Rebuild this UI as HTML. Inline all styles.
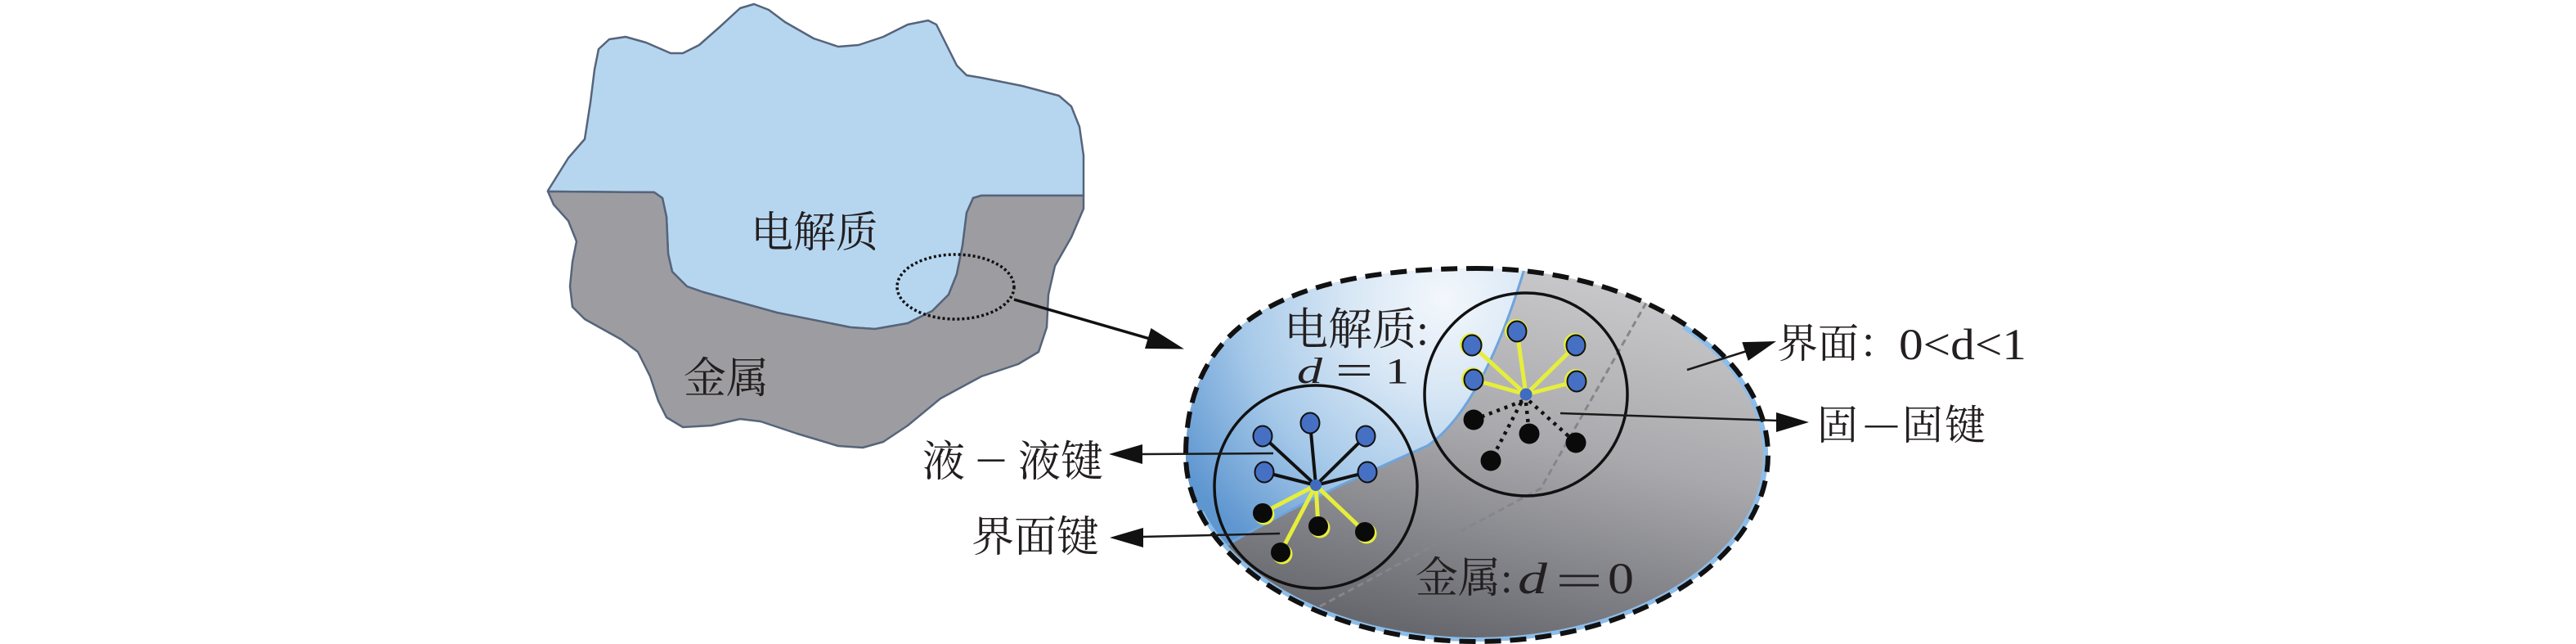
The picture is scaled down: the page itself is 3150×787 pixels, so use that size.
<!DOCTYPE html>
<html><head><meta charset="utf-8"><style>
html,body{margin:0;padding:0;background:#fff;}
svg{display:block;}
text{font-family:"Liberation Serif","Noto Serif CJK SC",serif;fill:#231f20;}
</style></head><body>
<svg width="3150" height="787" viewBox="0 0 3150 787" xmlns="http://www.w3.org/2000/svg">
<defs>
<clipPath id="ec"><path d="M1806,328 C2002.6,328 2162,430 2162,556 C2162,682 2002.6,784 1806,784 C1609.4,784 1450,682 1450,556 C1450,401 1564,328 1806,328 Z"/></clipPath>
<radialGradient id="bg" cx="1765" cy="365" r="380" gradientUnits="userSpaceOnUse">
<stop offset="0" stop-color="#f3f7fc"/>
<stop offset="0.3" stop-color="#d8e7f5"/>
<stop offset="0.65" stop-color="#a6c9e9"/>
<stop offset="1" stop-color="#5e96d0"/>
</radialGradient>
<linearGradient id="gg" x1="1900" y1="330" x2="1800" y2="785" gradientUnits="userSpaceOnUse">
<stop offset="0" stop-color="#c8c8ca"/>
<stop offset="0.45" stop-color="#a9a9ad"/>
<stop offset="1" stop-color="#67686e"/>
</linearGradient>
</defs>

<!-- Left blob: electrolyte -->
<polygon fill="#b6d6f0" stroke="#56647a" stroke-width="2.5" stroke-linejoin="round"
points="670,233 695,193 715,170 722,125 727,85 732,60 745,48 765,45 790,52 820,65 835,65 855,55 880,33 905,10 922,5 940,12 960,27 995,47 1025,57 1050,55 1080,45 1110,30 1135,25 1145,30 1155,50 1170,80 1182,92 1200,95 1250,105 1295,117 1310,130 1320,155 1325,190 1325,238 1325,239 1200,239 1190,242 1182,260 1177,300 1170,335 1160,360 1140,380 1110,395 1070,402 1040,400 950,382 860,357 840,350 822,332 817,310 815,265 810,242 800,235 670,234"/>
<!-- Left blob: metal -->
<polygon fill="#9d9da1" stroke="#56647a" stroke-width="2.5" stroke-linejoin="round"
points="670,234 800,235 810,242 815,265 817,310 822,332 840,350 860,357 950,382 1040,400 1070,402 1110,395 1140,380 1160,360 1170,335 1177,300 1182,260 1190,242 1200,239 1325,239 1325,255 1310,290 1290,325 1282,360 1280,400 1270,430 1245,445 1200,460 1150,487 1110,520 1080,540 1055,547 1025,545 975,530 930,515 905,512 870,520 835,522 815,510 805,490 795,460 780,430 760,415 715,390 700,375 697,350 700,320 705,295 695,270 677,250"/>
<text x="918" y="302" font-size="52">电解质</text>
<text x="836" y="480" font-size="52">金属</text>
<ellipse cx="1168.5" cy="350.5" rx="71.5" ry="39.5" fill="none" stroke="#111" stroke-width="3.5" stroke-dasharray="3 3"/>

<!-- big arrow -->
<line x1="1240" y1="366" x2="1406" y2="414" stroke="#111" stroke-width="3.5"/>
<polygon points="1448,426.5 1400,426 1407.5,401" fill="#111"/>

<!-- Ellipse fills -->
<g clip-path="url(#ec)">
<rect x="1440" y="320" width="730" height="470" fill="url(#gg)"/>
<path d="M1420,700 L1497,668 C1600,608 1700,565 1745,545 C1790,515 1830,440 1863,332 L1870,300 L1420,300 Z" fill="url(#bg)"/>
<path d="M1440,702 L1497,668 C1600,608 1700,565 1745,545 C1790,515 1830,440 1863,332 L1866,320" fill="none" stroke="#6ea4db" stroke-width="3"/>
<path d="M2013,370 L1884,597 L1612,742" fill="none" stroke="#85858b" stroke-width="3" stroke-dasharray="8 5"/>
<path d="M2060,397 A356,228 0 1 1 1467,627" fill="none" stroke="#8cbde9" stroke-width="11"/>
</g>
<!-- ellipse dashed outline -->
<path d="M1806,328 C2002.6,328 2162,430 2162,556 C2162,682 2002.6,784 1806,784 C1609.4,784 1450,682 1450,556 C1450,401 1564,328 1806,328 Z" fill="none" stroke="#111" stroke-width="6" stroke-dasharray="20 11"/>

<!-- Circle 1 -->
<circle cx="1609" cy="595" r="124" fill="none" stroke="#111" stroke-width="3.5"/>
<g stroke="#111" stroke-width="4">
<line x1="1609" y1="593" x2="1602" y2="517"/>
<line x1="1609" y1="593" x2="1544" y2="533"/>
<line x1="1609" y1="593" x2="1670" y2="533"/>
<line x1="1609" y1="593" x2="1546" y2="577"/>
<line x1="1609" y1="593" x2="1672" y2="577"/>
</g>
<g stroke="#e6ee3c" stroke-width="5">
<line x1="1609" y1="593" x2="1544" y2="627"/>
<line x1="1609" y1="593" x2="1612" y2="643"/>
<line x1="1609" y1="593" x2="1669" y2="650"/>
<line x1="1609" y1="593" x2="1566" y2="675"/>
</g>
<g fill="#4670c4" stroke="#111" stroke-width="2">
<ellipse cx="1602" cy="517" rx="11.5" ry="12.5"/>
<ellipse cx="1544" cy="533" rx="11.5" ry="12.5"/>
<ellipse cx="1670" cy="533" rx="11.5" ry="12.5"/>
<ellipse cx="1546" cy="577" rx="11.5" ry="12.5"/>
<ellipse cx="1672" cy="577" rx="11.5" ry="12.5"/>
</g>
<g fill="#e6ee3c">
<circle cx="1546" cy="629" r="12.5"/>
<circle cx="1614" cy="645" r="12.5"/>
<circle cx="1671" cy="652" r="12.5"/>
<circle cx="1568" cy="677" r="12.5"/>
</g>
<g fill="#0a0a0a">
<circle cx="1544" cy="627" r="12"/>
<circle cx="1612" cy="643" r="12"/>
<circle cx="1669" cy="650" r="12"/>
<circle cx="1566" cy="675" r="12"/>
</g>
<circle cx="1609" cy="593" r="7" fill="#3f6bc0"/>

<!-- Circle 2 -->
<circle cx="1866" cy="482" r="124" fill="none" stroke="#111" stroke-width="3.5"/>
<g stroke="#e6ee3c" stroke-width="5">
<line x1="1866" y1="482" x2="1855" y2="405"/>
<line x1="1866" y1="482" x2="1800" y2="422"/>
<line x1="1866" y1="482" x2="1927" y2="422"/>
<line x1="1866" y1="482" x2="1802" y2="464"/>
<line x1="1866" y1="482" x2="1928" y2="466"/>
</g>
<g fill="#e6ee3c">
<circle cx="1854" cy="404" r="14"/>
<circle cx="1799" cy="421" r="14"/>
<circle cx="1926" cy="421" r="14"/>
<circle cx="1801" cy="463" r="14"/>
<circle cx="1927" cy="465" r="14"/>
</g>
<g fill="#4670c4" stroke="#111" stroke-width="2">
<ellipse cx="1855" cy="405" rx="11.5" ry="12.5"/>
<ellipse cx="1800" cy="422" rx="11.5" ry="12.5"/>
<ellipse cx="1927" cy="422" rx="11.5" ry="12.5"/>
<ellipse cx="1802" cy="464" rx="11.5" ry="12.5"/>
<ellipse cx="1928" cy="466" rx="11.5" ry="12.5"/>
</g>
<g stroke="#111" stroke-width="4.5" stroke-dasharray="4 6">
<line x1="1862" y1="490" x2="1802" y2="513"/>
<line x1="1866" y1="492" x2="1870" y2="530"/>
<line x1="1870" y1="490" x2="1927" y2="541"/>
<line x1="1860" y1="492" x2="1823" y2="563"/>
</g>
<g fill="#0a0a0a">
<circle cx="1802" cy="513" r="12.5"/>
<circle cx="1870" cy="530" r="12.5"/>
<circle cx="1927" cy="541" r="12.5"/>
<circle cx="1823" cy="563" r="12.5"/>
</g>
<circle cx="1866" cy="482" r="7.5" fill="#3f6bc0"/>

<!-- leader lines -->
<g stroke="#1a1a1a" stroke-width="2.5">
<line x1="1557" y1="554" x2="1394" y2="555"/>
<line x1="1565" y1="652" x2="1395" y2="656"/>
<line x1="1908" y1="505" x2="2174" y2="514"/>
<line x1="2063" y1="452" x2="2136" y2="429"/>
</g>
<g fill="#111">
<polygon points="1356,555 1397,543 1397,567"/>
<polygon points="1357,657 1398,645 1398,669"/>
<polygon points="2212,516 2172,504 2172,528"/>
<polygon points="2172,417 2137.7,440.9 2130.3,418.1"/>
</g>

<!-- labels inside ellipse -->
<text x="1570" y="421" font-size="54">电解质:</text>
<text x="1586" y="468" font-size="44" font-style="italic" textLength="31" lengthAdjust="spacingAndGlyphs">d</text>
<text x="1633" y="470" font-size="52" textLength="46" lengthAdjust="spacingAndGlyphs">=</text>
<text x="1694" y="468" font-size="44" textLength="29" lengthAdjust="spacingAndGlyphs">1</text>
<text x="1731" y="724" font-size="52">金属:</text>
<text x="1856" y="725" font-size="54" font-style="italic" textLength="36" lengthAdjust="spacingAndGlyphs">d</text>
<text x="1902" y="728" font-size="56" textLength="58" lengthAdjust="spacingAndGlyphs">=</text>
<text x="1966" y="725" font-size="54" textLength="32" lengthAdjust="spacingAndGlyphs">0</text>

<!-- left labels -->
<text x="1128" y="582" font-size="52">液</text>
<text x="1196" y="575" font-size="52" textLength="32" lengthAdjust="spacingAndGlyphs">–</text>
<text x="1245" y="582" font-size="52">液键</text>
<text x="1188" y="674" font-size="52">界面键</text>

<!-- right labels -->
<text x="2173" y="437" font-size="50">界面</text>
<text x="2273" y="437" font-size="50">：</text>
<text x="2322" y="439" font-size="54" textLength="156" lengthAdjust="spacingAndGlyphs">0&lt;d&lt;1</text>
<text x="2222" y="537" font-size="50">固</text>
<text x="2281" y="533" font-size="50" textLength="39" lengthAdjust="spacingAndGlyphs">–</text>
<text x="2326" y="537" font-size="50">固</text>
<text x="2378" y="537" font-size="50">键</text>
</svg>
</body></html>
